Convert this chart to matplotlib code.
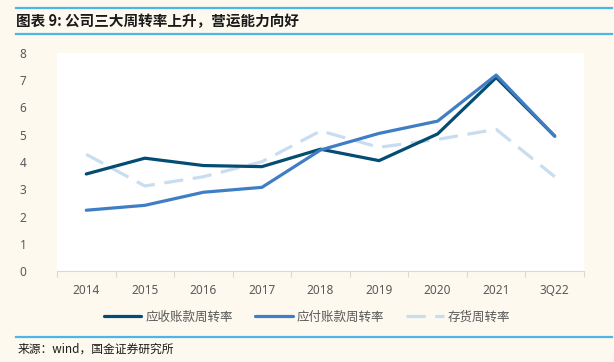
import matplotlib
matplotlib.use('Agg')
import matplotlib.pyplot as plt
from matplotlib.lines import Line2D

plt.rcParams['font.family'] = ['Noto Sans CJK SC', 'DejaVu Sans']

# данные
categories = ['2014', '2015', '2016', '2017', '2018', '2019', '2020', '2021', '3Q22']
receivable = [3.56, 4.14, 3.87, 3.83, 4.47, 4.05, 5.03, 7.10, 4.95]
payable = [2.23, 2.41, 2.89, 3.07, 4.44, 5.05, 5.50, 7.19, 4.95]
inventory = [4.28, 3.12, 3.46, 4.01, 5.14, 4.54, 4.83, 5.20, 3.46]
labels = ['应收账款周转率', '应付账款周转率', '存货周转率']

bg = '#fdf9ef'
fig = plt.figure(figsize=(6.14, 3.62), dpi=100, facecolor=bg)
ax = fig.add_axes([57 / 614, 1 - 271 / 362, (584 - 57) / 614, (271 - 53) / 362])
ax.set_facecolor('white')

x = range(len(categories))
ax.plot(x, receivable, color='#044c73', lw=2.3, solid_capstyle='round', label=labels[0], zorder=2)
ax.plot(x, payable, color='#3f7ec4', lw=2.3, solid_capstyle='round', label=labels[1], zorder=3)
ax.plot(x, inventory, color='#c9ddf0', lw=2.3, dashes=(6, 3), label=labels[2], zorder=1)

ax.set_xlim(-0.5, len(categories) - 0.5)
ax.set_ylim(0, 8)
ax.set_yticks(range(9))
ax.set_xticks(x)
ax.set_xticklabels(categories)
ax.set_xticks([i - 0.5 for i in range(len(categories) + 1)], minor=True)
ax.tick_params(axis='x', which='major', length=0, pad=9, labelsize=8.5, labelcolor='#595959')
ax.tick_params(axis='x', which='minor', length=4, color='#d9d9d9', width=0.8)
ax.tick_params(axis='y', length=0, pad=22, labelsize=8.5, labelcolor='#595959')
for lab in ax.get_xticklabels() + ax.get_yticklabels():
    lab.set_fontfamily('Noto Sans')
for s in ['top', 'right', 'left']:
    ax.spines[s].set_visible(False)
ax.spines['bottom'].set_color('#d9d9d9')
ax.spines['bottom'].set_linewidth(0.8)

leg = fig.legend(loc='center', bbox_to_anchor=(0.5, 1 - 317 / 362), ncol=3, frameon=False,
                 fontsize=9, handlelength=3.0, columnspacing=1.8, handletextpad=0.3)
for t in leg.get_texts():
    t.set_color('#595959')

# рамка заголовка
for yy in [8, 34, 337]:
    fig.add_artist(Line2D([16 / 614, 612 / 614], [1 - yy / 362, 1 - yy / 362],
                          color='#4cb6e6', lw=1.6, transform=fig.transFigure))

fig.text(16 / 614, 1 - 21 / 362, '图表 9: 公司三大周转率上升，营运能力向好', fontsize=10.5,
         fontweight='bold', color='#1a1a1a', va='center', ha='left')
fig.text(18 / 614, 1 - 349 / 362, '来源：wind，国金证券研究所', fontsize=8.5,
         color='#1a1a1a', va='center', ha='left')

fig.savefig('out.png', dpi=100, facecolor=bg)
